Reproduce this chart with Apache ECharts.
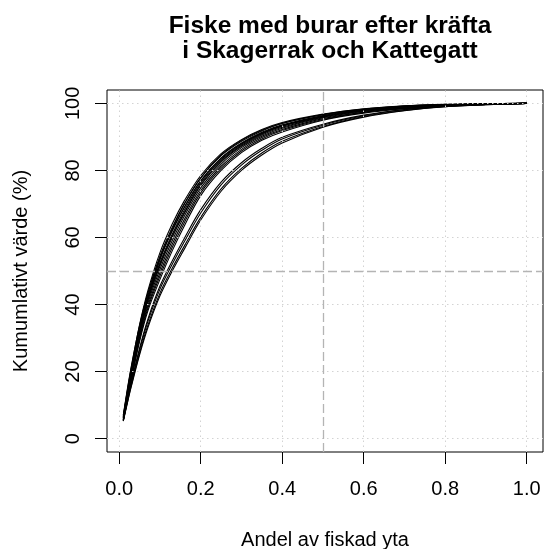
<!DOCTYPE html>
<html lang="sv">
<head>
    <meta charset="UTF-8">
    <title>Fiske med burar efter kräfta</title>
    <style>
        html, body { margin: 0; padding: 0; background: #fff; }
        #main { width: 545px; height: 549px; }
    </style>
</head>
<body>
    <div id="main"></div>
    <script src="https://cdn.jsdelivr.net/npm/echarts@6/dist/echarts.min.js"></script>
    <script>
        // andel av fiskad yta (gemensam x för alla kurvor)
        var shareX = [0.01, 0.02, 0.03, 0.05, 0.07, 0.1, 0.13, 0.16, 0.2, 0.25, 0.3, 0.35, 0.4, 0.5, 0.6, 0.7, 0.8, 0.9, 1.0];

        // kumulativt värde (%) - det täta bandet
        var band1 = [6.8, 14.5, 21.5, 34, 44, 55.5, 64, 71, 78.5, 85, 89.2, 92.2, 94.3, 96.8, 98.4, 99.3, 99.7, 99.9, 100];
        var band2 = [6.6, 14.1, 21, 33.4, 43.3, 54.5, 63, 70.1, 77.8, 84.4, 88.7, 91.8, 94, 96.6, 98.2, 99.2, 99.6, 99.9, 100];
        var band3 = [6.45, 13.75, 20.5, 32.75, 42.5, 53.5, 62, 69.1, 77, 83.75, 88.2, 91.4, 93.6, 96.35, 98.1, 99.1, 99.6, 99.85, 100];
        var band4 = [6.3, 13.4, 20, 32.2, 41.8, 52.5, 61, 68.2, 76.3, 83.2, 87.8, 91, 93.3, 96.1, 97.9, 99, 99.5, 99.8, 100];
        var band5 = [6.1, 13, 19.5, 31.5, 41, 51.5, 60, 67.2, 75.5, 82.5, 87.2, 90.6, 92.9, 95.9, 97.75, 98.85, 99.45, 99.8, 100];
        var band6 = [5.9, 12.6, 19, 30.9, 40.3, 50.5, 59, 66.4, 74.8, 81.9, 86.8, 90.2, 92.6, 95.7, 97.6, 98.7, 99.4, 99.8, 100];
        var band7 = [5.75, 12.25, 18.5, 30.25, 39.5, 49.5, 58, 65.4, 74, 81.25, 86.3, 89.8, 92.2, 95.45, 97.4, 98.6, 99.3, 99.75, 100];
        var band8 = [5.6, 11.9, 18, 29.6, 38.8, 48.5, 57, 64.5, 73.3, 80.6, 85.8, 89.4, 91.9, 95.2, 97.3, 98.5, 99.25, 99.7, 100];
        var band9 = [5.4, 11.5, 17.5, 29, 38, 47.5, 56, 63.5, 72.5, 80, 85.3, 89, 91.5, 95, 97.1, 98.4, 99.2, 99.7, 100];
        var band10 = [7.0, 14.8, 21.8, 33.8, 43.2, 54, 62, 69, 76.8, 83.6, 88, 91.2, 93.4, 96.2, 98, 99, 99.6, 99.9, 100];
        var band11 = [5.6, 12.2, 19, 31.5, 41.8, 53.5, 62.5, 70, 77.8, 84.6, 89, 92, 94.1, 96.7, 98.3, 99.2, 99.7, 99.9, 100];
        var band12 = [6.2, 13, 19.8, 32, 41.5, 52, 60.5, 67.5, 75.8, 82.8, 87.5, 90.9, 93.2, 96, 97.9, 98.9, 99.5, 99.8, 100];

        // de avvikande kurvorna under bandet
        var low1 = [5.5, 11.4, 17, 27, 35.5, 45.5, 53, 59.8, 68.3, 76.5, 82.3, 86.6, 89.9, 93.8, 96.5, 98.2, 99.2, 99.7, 100];
        var low2 = [5.4, 11.2, 16.6, 26.4, 34.8, 44.6, 52, 58.8, 67.3, 75.7, 81.6, 86, 89.4, 93.5, 96.3, 98.1, 99.1, 99.7, 100];
        var low3 = [5.3, 10.8, 16, 25.5, 33.7, 43.4, 50.8, 57.5, 66, 74.5, 80.6, 85.2, 88.7, 93.1, 96.1, 97.9, 99, 99.6, 100];
        var low4 = [5.2, 10.6, 15.7, 25, 33, 42.6, 50, 56.6, 65.2, 73.8, 80, 84.6, 88.2, 92.9, 95.9, 97.8, 99, 99.6, 100];

        var curves = [band1, band2, band3, band4, band5, band6, band7, band8, band9, band10, band11, band12,
            low1, low2, low3, low4];

        var xTicks = [0, 0.2, 0.4, 0.6, 0.8, 1.0];
        var yTicks = [0, 20, 40, 60, 80, 100];

        var myChart = echarts.init(document.getElementById('main'));

        var series = curves.map(function (ys) {
            return {
                type: 'line',
                data: shareX.map(function (x, i) { return [x, ys[i]]; }),
                showSymbol: false,
                smooth: 0.35,
                silent: true,
                z: 3,
                lineStyle: { color: '#000', width: 1.1 }
            };
        });

        // grid() - prickade linjer
        series.push({
            type: 'line',
            data: [],
            silent: true,
            z: 1,
            markLine: {
                silent: true,
                symbol: 'none',
                label: { show: false },
                animation: false,
                lineStyle: { color: '#d3d3d3', width: 1, type: [1.5, 3.5] },
                data: xTicks.map(function (v) { return { xAxis: v }; })
                    .concat(yTicks.map(function (v) { return { yAxis: v }; }))
            }
        });

        // abline vid 0.5 och 50 - streckade
        series.push({
            type: 'line',
            data: [],
            silent: true,
            z: 5,
            markLine: {
                silent: true,
                symbol: 'none',
                label: { show: false },
                animation: false,
                lineStyle: { color: '#b4b4b4', width: 1.3, type: [9, 4] },
                data: [{ xAxis: 0.5 }, { yAxis: 50 }]
            }
        });

        var option = {
            animation: false,
            title: {
                text: 'Fiske med burar efter kräfta\ni Skagerrak och Kattegatt',
                left: 325,
                top: 9,
                textAlign: 'center',
                textStyle: {
                    fontFamily: 'Liberation Sans',
                    fontWeight: 'bold',
                    fontSize: 24.5,
                    lineHeight: 25,
                    color: '#000'
                }
            },
            grid: {
                left: 107,
                right: 2,
                top: 90,
                bottom: 97,
                show: true,
                borderColor: '#000',
                borderWidth: 1,
                containLabel: false,
                outerBoundsMode: 'none'
            },
            xAxis: {
                type: 'value',
                min: -0.03,
                max: 1.04,
                name: 'Andel av fiskad yta',
                nameLocation: 'middle',
                nameGap: 78,
                nameTextStyle: { fontFamily: 'Liberation Sans', fontSize: 20, color: '#000' },
                axisLine: { show: false, onZero: false },
                splitLine: { show: false },
                axisTick: {
                    show: true,
                    inside: false,
                    customValues: xTicks,
                    length: 12,
                    lineStyle: { color: '#000' }
                },
                axisLabel: {
                    customValues: xTicks,
                    margin: 27,
                    fontFamily: 'Liberation Sans',
                    fontSize: 20,
                    color: '#000',
                    formatter: function (v) { return v.toFixed(1); }
                }
            },
            yAxis: {
                type: 'value',
                min: -4,
                max: 104,
                name: 'Kumumlativt värde (%)',
                nameLocation: 'middle',
                nameGap: 76,
                nameRotate: 90,
                nameTextStyle: { fontFamily: 'Liberation Sans', fontSize: 20, color: '#000' },
                axisLine: { show: false, onZero: false },
                splitLine: { show: false },
                axisTick: {
                    show: true,
                    inside: false,
                    customValues: yTicks,
                    length: 12,
                    lineStyle: { color: '#000' }
                },
                axisLabel: {
                    customValues: yTicks,
                    rotate: 90,
                    margin: 24,
                    fontFamily: 'Liberation Sans',
                    fontSize: 20,
                    color: '#000'
                }
            },
            series: series
        };
        myChart.setOption(option);
    </script>
</body>
</html>
